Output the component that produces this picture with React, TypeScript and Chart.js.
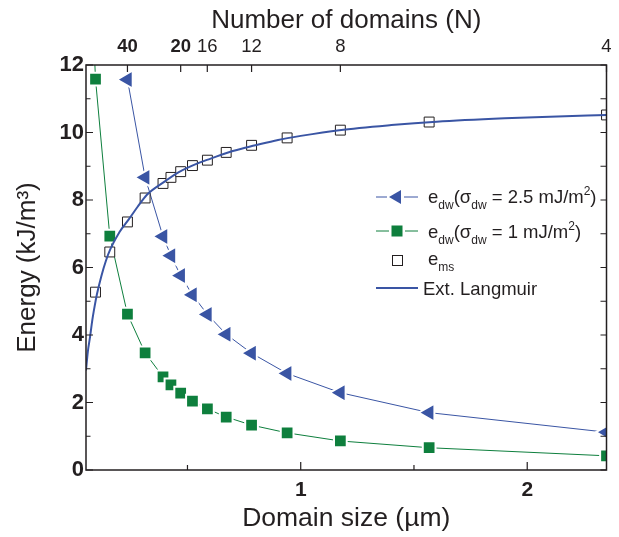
import { useEffect, useRef } from "react";
import { Chart, registerables } from "chart.js";
Chart.register(...registerables);

// ---- data ----
const domainSize = [0.094, 0.157, 0.235, 0.313, 0.392, 0.427, 0.47, 0.522, 0.588, 0.671, 0.783, 0.94, 1.175, 1.567, 2.35];
const emsEnergy = [5.27, 6.46, 7.35, 8.06, 8.49, 8.67, 8.84, 9.02, 9.18, 9.41, 9.62, 9.84, 10.07, 10.31, 10.52];

const dw1Size = [0.075, 0.094, 0.157, 0.235, 0.313, 0.392, 0.427, 0.47, 0.522, 0.588, 0.671, 0.783, 0.94, 1.175, 1.567, 2.35];
const dw1Energy = [14.5, 11.58, 6.93, 4.62, 3.47, 2.76, 2.52, 2.28, 2.04, 1.81, 1.57, 1.33, 1.1, 0.86, 0.66, 0.42];

const dw25Size = [0.235, 0.313, 0.392, 0.427, 0.47, 0.522, 0.588, 0.671, 0.783, 0.94, 1.175, 1.567, 2.35];
const dw25Energy = [11.57, 8.67, 6.92, 6.35, 5.76, 5.19, 4.61, 4.02, 3.46, 2.86, 2.29, 1.7, 1.12];

const langmuirSize = [0.052, 0.06, 0.07, 0.08, 0.09, 0.1, 0.12, 0.14, 0.16, 0.2, 0.24, 0.28, 0.32, 0.4, 0.46, 0.55, 0.6, 0.7, 0.8, 0.9, 1.0, 1.17, 1.4, 1.6, 1.9, 2.1, 2.35];
const langmuirEnergy = [2.95, 3.5, 3.95, 4.45, 4.85, 5.2, 5.75, 6.2, 6.55, 7.05, 7.42, 7.8, 8.15, 8.55, 8.82, 9.1, 9.22, 9.45, 9.62, 9.78, 9.9, 10.07, 10.22, 10.32, 10.42, 10.47, 10.52];

// axes
const xMin = 0.052;
const xMax = 2.35;
const xMajorTicks = [1, 2];
const xMinorTicks = [0.5, 1.5];
const topTickSizes = [0.235, 0.47, 0.5875, 0.783, 1.175, 2.35];
const topTickLabels = ["40", "20", "16", "12", "8", "4"];
const topTickBold = [true, true, false, false, false, false];
const yMin = 0;
const yMax = 12;
const yTicks = [0, 1, 2, 3, 4, 5, 6, 7, 8, 9, 10, 11, 12];

const BLUE = "#3a55a4";
const GREEN = "#0e7f3d";
const INK = "#231f20";
const FONT = "'Liberation Sans', Arial, Helvetica, sans-serif";

const xy = (xs: number[], ys: number[]) => xs.map((x, i) => ({ x, y: ys[i] }));

function drawRich(ctx: CanvasRenderingContext2D, x: number, y: number, parts: [string, string][]) {
  for (const [t, k] of parts) {
    ctx.font = k === "n" ? `18.5px ${FONT}` : `12px ${FONT}`;
    const dy = k === "sub" ? 6 : k === "sup" ? -8 : 0;
    ctx.fillText(t, x, y + dy);
    x += ctx.measureText(t).width;
  }
}

const framePlugin = {
  id: "frameTicks",
  afterDatasetsDraw(chart: any) {
    const { ctx, chartArea: a, scales } = chart;
    ctx.save();
    ctx.strokeStyle = INK;
    ctx.lineWidth = 1.2;
    ctx.beginPath();
    for (const v of yTicks) {
      const py = scales.y.getPixelForValue(v);
      const len = v % 2 === 0 ? 7 : 4.5;
      ctx.moveTo(a.left, py);
      ctx.lineTo(a.left + len, py);
      ctx.moveTo(a.right, py);
      ctx.lineTo(a.right - 6, py);
    }
    for (const v of xMajorTicks) {
      const px = scales.x.getPixelForValue(v);
      ctx.moveTo(px, a.bottom);
      ctx.lineTo(px, a.bottom - 8);
    }
    for (const v of xMinorTicks) {
      const px = scales.x.getPixelForValue(v);
      ctx.moveTo(px, a.bottom);
      ctx.lineTo(px, a.bottom - 5);
    }
    for (const v of topTickSizes) {
      const px = scales.xTop.getPixelForValue(v);
      ctx.moveTo(px, a.top);
      ctx.lineTo(px, a.top + 7);
    }
    ctx.stroke();
    ctx.lineWidth = 1.5;
    ctx.strokeRect(a.left, a.top, a.right - a.left, a.bottom - a.top);
    ctx.restore();
  },
  afterDraw(chart: any) {
    const ctx: CanvasRenderingContext2D = chart.ctx;
    ctx.save();
    const lx0 = 376, lx1 = 418, mx = 397, tx = 428;
    // item 1
    ctx.lineWidth = 1;
    ctx.strokeStyle = BLUE;
    ctx.beginPath();
    ctx.moveTo(lx0, 197); ctx.lineTo(mx - 10, 197);
    ctx.moveTo(mx + 7, 197); ctx.lineTo(lx1, 197);
    ctx.stroke();
    ctx.fillStyle = BLUE;
    ctx.beginPath();
    ctx.moveTo(mx - 8, 197);
    ctx.lineTo(mx + 4, 197 - 7);
    ctx.lineTo(mx + 4, 197 + 7);
    ctx.closePath();
    ctx.fill();
    // item 2
    ctx.strokeStyle = GREEN;
    ctx.beginPath();
    ctx.moveTo(lx0, 231); ctx.lineTo(mx - 8, 231);
    ctx.moveTo(mx + 8, 231); ctx.lineTo(lx1, 231);
    ctx.stroke();
    ctx.fillStyle = GREEN;
    ctx.fillRect(mx - 5.5, 231 - 5.5, 11, 11);
    // item 3
    ctx.strokeStyle = INK;
    ctx.lineWidth = 1;
    ctx.strokeRect(mx - 4.5, 260 - 4.5, 10, 10);
    // item 4
    ctx.strokeStyle = BLUE;
    ctx.lineWidth = 2;
    ctx.beginPath();
    ctx.moveTo(lx0, 288); ctx.lineTo(lx1, 288);
    ctx.stroke();
    // texts
    ctx.fillStyle = INK;
    ctx.textBaseline = "alphabetic";
    ctx.textAlign = "left";
    drawRich(ctx, tx, 203, [["e", "n"], ["dw", "sub"], ["(σ", "n"], ["dw", "sub"], [" = 2.5 mJ/m", "n"], ["2", "sup"], [")", "n"]]);
    drawRich(ctx, tx, 238, [["e", "n"], ["dw", "sub"], ["(σ", "n"], ["dw", "sub"], [" = 1 mJ/m", "n"], ["2", "sup"], [")", "n"]]);
    drawRich(ctx, tx, 265, [["e", "n"], ["ms", "sub"]]);
    drawRich(ctx, 423, 295, [["Ext. Langmuir", "n"]]);
    ctx.restore();
  },
};

export default function App() {
  const ref = useRef<HTMLCanvasElement>(null);
  useEffect(() => {
    const chart = new Chart(ref.current!, {
      type: "line",
      data: {
        datasets: [
          {
            label: "Ext. Langmuir",
            data: xy(langmuirSize, langmuirEnergy),
            borderColor: BLUE,
            borderWidth: 2,
            pointRadius: 0,
            cubicInterpolationMode: "monotone",
            order: 0,
          },
          {
            label: "e_ms",
            data: xy(domainSize, emsEnergy),
            showLine: false,
            pointStyle: "rect",
            pointRadius: 7,
            pointBackgroundColor: "#ffffff",
            pointBorderColor: INK,
            pointBorderWidth: 1,
            order: 1,
          },
          {
            label: "e_dw (2.5)",
            data: xy(dw25Size, dw25Energy),
            borderColor: BLUE,
            borderWidth: 1,
            pointStyle: "triangle",
            pointRotation: -90,
            pointRadius: 10.5,
            pointBackgroundColor: BLUE,
            pointBorderColor: "#ffffff",
            pointBorderWidth: 2,
            order: 2,
          },
          {
            label: "e_dw (1)",
            data: xy(dw1Size, dw1Energy),
            borderColor: GREEN,
            borderWidth: 1,
            pointStyle: "rect",
            pointRadius: 9,
            pointBackgroundColor: GREEN,
            pointBorderColor: "#ffffff",
            pointBorderWidth: 2,
            order: 3,
          },
        ] as any,
      },
      options: {
        responsive: false,
        animation: false,
        layout: { padding: { left: 0, right: 2.5, top: 0, bottom: 0 } },
        plugins: { legend: { display: false }, tooltip: { enabled: false } },
        scales: {
          x: {
            type: "linear",
            position: "bottom",
            min: xMin,
            max: xMax,
            grid: { display: false, drawTicks: false },
            border: { display: false },
            afterBuildTicks: (s: any) => {
              s.ticks = [...xMinorTicks, ...xMajorTicks].sort((a, b) => a - b).map((v) => ({ value: v }));
            },
            ticks: {
              autoSkip: false,
              maxRotation: 0,
              padding: 8,
              color: INK,
              font: { family: FONT, size: 21, weight: "bold" },
              callback: (v: any) => (xMajorTicks.includes(v) ? String(v) : ""),
            },
            title: {
              display: true,
              text: "Domain size (µm)",
              color: INK,
              font: { family: FONT, size: 26.5 },
              padding: { top: 0, bottom: 2 },
            },
            afterFit: (s: any) => {
              s.height = 67;
              s.paddingLeft = 0;
              s.paddingRight = 0;
            },
          },
          xTop: {
            type: "linear",
            position: "top",
            min: xMin,
            max: xMax,
            grid: { display: false, drawTicks: false },
            border: { display: false },
            afterBuildTicks: (s: any) => {
              s.ticks = topTickSizes.map((v) => ({ value: v }));
            },
            ticks: {
              autoSkip: false,
              maxRotation: 0,
              padding: 7,
              color: INK,
              font: (c: any) => ({ family: FONT, size: 18.5, weight: topTickBold[c.index] ? "bold" : "normal" }),
              callback: (_v: any, i: number) => topTickLabels[i],
            },
            title: {
              display: true,
              text: "Number of domains (N)",
              color: INK,
              font: { family: FONT, size: 26 },
              padding: { top: 5, bottom: 0 },
            },
            afterFit: (s: any) => {
              s.height = 65;
              s.paddingLeft = 0;
              s.paddingRight = 0;
            },
          },
          y: {
            type: "linear",
            position: "left",
            min: yMin,
            max: yMax,
            grid: { display: false, drawTicks: false },
            border: { display: false },
            afterBuildTicks: (s: any) => {
              s.ticks = yTicks.filter((v) => v % 2 === 0).map((v) => ({ value: v }));
            },
            ticks: {
              padding: 2,
              color: INK,
              font: { family: FONT, size: 22, weight: "bold" },
            },
            title: {
              display: true,
              text: "Energy (kJ/m³)",
              color: INK,
              font: { family: FONT, size: 26 },
              padding: { top: 12, bottom: 0 },
            },
            afterFit: (s: any) => {
              s.width = 86;
              s.paddingTop = 0;
              s.paddingBottom = 0;
            },
          },
        },
      } as any,
      plugins: [framePlugin],
    });
    return () => chart.destroy();
  }, []);
  return (
    <div style={{ position: "absolute", left: 0, top: 0, width: 619, height: 537, background: "#ffffff" }}>
      <canvas ref={ref} width={619} height={537} style={{ display: "block" }} />
    </div>
  );
}
